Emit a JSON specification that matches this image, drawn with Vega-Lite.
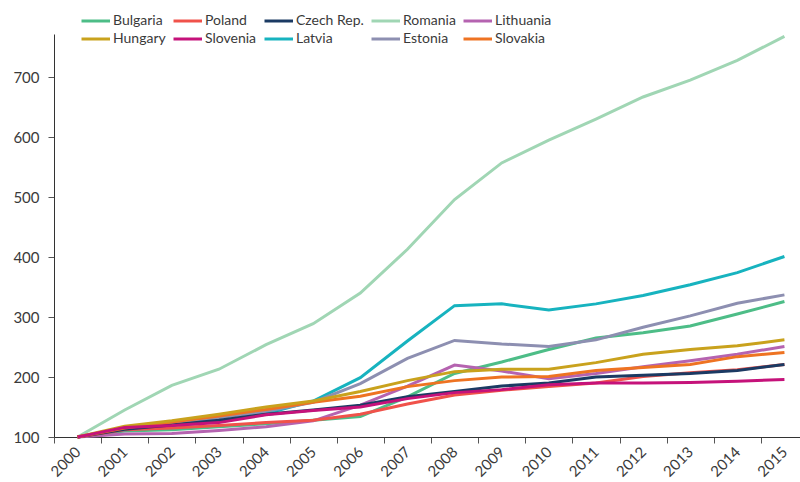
{
  "$schema": "https://vega.github.io/schema/vega-lite/v6.json",
  "autosize": {"type": "none"},
  "padding": {"left": 54, "top": 34, "right": 0, "bottom": 45},
  "width": 746,
  "height": 403,
  "background": "white",
  "config": {
    "view": {"stroke": null},
    "font": "Lato",
    "axis": {"labelFont": "Lato", "labelFontSize": 14, "labelColor": "#3a3a3a", "domainColor": "#333333", "tickColor": "#555555", "grid": false, "title": null}
  },
  "data": {"values": [
    {"country":"Bulgaria","year":"2000","v":100},{"country":"Bulgaria","year":"2001","v":110},{"country":"Bulgaria","year":"2002","v":112},{"country":"Bulgaria","year":"2003","v":117},{"country":"Bulgaria","year":"2004","v":122},{"country":"Bulgaria","year":"2005","v":128},{"country":"Bulgaria","year":"2006","v":134},{"country":"Bulgaria","year":"2007","v":167},{"country":"Bulgaria","year":"2008","v":206},{"country":"Bulgaria","year":"2009","v":225},{"country":"Bulgaria","year":"2010","v":246},{"country":"Bulgaria","year":"2011","v":265},{"country":"Bulgaria","year":"2012","v":274},{"country":"Bulgaria","year":"2013","v":285},{"country":"Bulgaria","year":"2014","v":305},{"country":"Bulgaria","year":"2015","v":326},
    {"country":"Romania","year":"2000","v":100},{"country":"Romania","year":"2001","v":145},{"country":"Romania","year":"2002","v":186},{"country":"Romania","year":"2003","v":213},{"country":"Romania","year":"2004","v":254},{"country":"Romania","year":"2005","v":289},{"country":"Romania","year":"2006","v":340},{"country":"Romania","year":"2007","v":413},{"country":"Romania","year":"2008","v":496},{"country":"Romania","year":"2009","v":557},{"country":"Romania","year":"2010","v":595},{"country":"Romania","year":"2011","v":630},{"country":"Romania","year":"2012","v":667},{"country":"Romania","year":"2013","v":695},{"country":"Romania","year":"2014","v":728},{"country":"Romania","year":"2015","v":768},
    {"country":"Latvia","year":"2000","v":100},{"country":"Latvia","year":"2001","v":112},{"country":"Latvia","year":"2002","v":119},{"country":"Latvia","year":"2003","v":126},{"country":"Latvia","year":"2004","v":139},{"country":"Latvia","year":"2005","v":160},{"country":"Latvia","year":"2006","v":199},{"country":"Latvia","year":"2007","v":260},{"country":"Latvia","year":"2008","v":319},{"country":"Latvia","year":"2009","v":322},{"country":"Latvia","year":"2010","v":312},{"country":"Latvia","year":"2011","v":322},{"country":"Latvia","year":"2012","v":336},{"country":"Latvia","year":"2013","v":354},{"country":"Latvia","year":"2014","v":374},{"country":"Latvia","year":"2015","v":401},
    {"country":"Estonia","year":"2000","v":100},{"country":"Estonia","year":"2001","v":113},{"country":"Estonia","year":"2002","v":123},{"country":"Estonia","year":"2003","v":132},{"country":"Estonia","year":"2004","v":143},{"country":"Estonia","year":"2005","v":158},{"country":"Estonia","year":"2006","v":189},{"country":"Estonia","year":"2007","v":231},{"country":"Estonia","year":"2008","v":261},{"country":"Estonia","year":"2009","v":255},{"country":"Estonia","year":"2010","v":251},{"country":"Estonia","year":"2011","v":262},{"country":"Estonia","year":"2012","v":283},{"country":"Estonia","year":"2013","v":302},{"country":"Estonia","year":"2014","v":323},{"country":"Estonia","year":"2015","v":337},
    {"country":"Lithuania","year":"2000","v":100},{"country":"Lithuania","year":"2001","v":105},{"country":"Lithuania","year":"2002","v":106},{"country":"Lithuania","year":"2003","v":111},{"country":"Lithuania","year":"2004","v":117},{"country":"Lithuania","year":"2005","v":127},{"country":"Lithuania","year":"2006","v":153},{"country":"Lithuania","year":"2007","v":185},{"country":"Lithuania","year":"2008","v":220},{"country":"Lithuania","year":"2009","v":210},{"country":"Lithuania","year":"2010","v":197},{"country":"Lithuania","year":"2011","v":206},{"country":"Lithuania","year":"2012","v":217},{"country":"Lithuania","year":"2013","v":227},{"country":"Lithuania","year":"2014","v":238},{"country":"Lithuania","year":"2015","v":251},
    {"country":"Poland","year":"2000","v":100},{"country":"Poland","year":"2001","v":112},{"country":"Poland","year":"2002","v":115},{"country":"Poland","year":"2003","v":119},{"country":"Poland","year":"2004","v":124},{"country":"Poland","year":"2005","v":128},{"country":"Poland","year":"2006","v":138},{"country":"Poland","year":"2007","v":155},{"country":"Poland","year":"2008","v":170},{"country":"Poland","year":"2009","v":178},{"country":"Poland","year":"2010","v":184},{"country":"Poland","year":"2011","v":190},{"country":"Poland","year":"2012","v":201},{"country":"Poland","year":"2013","v":207},{"country":"Poland","year":"2014","v":212},{"country":"Poland","year":"2015","v":221},
    {"country":"Czech Rep.","year":"2000","v":100},{"country":"Czech Rep.","year":"2001","v":113},{"country":"Czech Rep.","year":"2002","v":120},{"country":"Czech Rep.","year":"2003","v":128},{"country":"Czech Rep.","year":"2004","v":138},{"country":"Czech Rep.","year":"2005","v":145},{"country":"Czech Rep.","year":"2006","v":153},{"country":"Czech Rep.","year":"2007","v":167},{"country":"Czech Rep.","year":"2008","v":176},{"country":"Czech Rep.","year":"2009","v":185},{"country":"Czech Rep.","year":"2010","v":190},{"country":"Czech Rep.","year":"2011","v":200},{"country":"Czech Rep.","year":"2012","v":203},{"country":"Czech Rep.","year":"2013","v":206},{"country":"Czech Rep.","year":"2014","v":211},{"country":"Czech Rep.","year":"2015","v":221},
    {"country":"Slovakia","year":"2000","v":100},{"country":"Slovakia","year":"2001","v":115},{"country":"Slovakia","year":"2002","v":125},{"country":"Slovakia","year":"2003","v":135},{"country":"Slovakia","year":"2004","v":146},{"country":"Slovakia","year":"2005","v":158},{"country":"Slovakia","year":"2006","v":168},{"country":"Slovakia","year":"2007","v":184},{"country":"Slovakia","year":"2008","v":194},{"country":"Slovakia","year":"2009","v":200},{"country":"Slovakia","year":"2010","v":201},{"country":"Slovakia","year":"2011","v":211},{"country":"Slovakia","year":"2012","v":216},{"country":"Slovakia","year":"2013","v":221},{"country":"Slovakia","year":"2014","v":234},{"country":"Slovakia","year":"2015","v":241},
    {"country":"Hungary","year":"2000","v":100},{"country":"Hungary","year":"2001","v":118},{"country":"Hungary","year":"2002","v":127},{"country":"Hungary","year":"2003","v":138},{"country":"Hungary","year":"2004","v":150},{"country":"Hungary","year":"2005","v":160},{"country":"Hungary","year":"2006","v":176},{"country":"Hungary","year":"2007","v":194},{"country":"Hungary","year":"2008","v":209},{"country":"Hungary","year":"2009","v":213},{"country":"Hungary","year":"2010","v":213},{"country":"Hungary","year":"2011","v":224},{"country":"Hungary","year":"2012","v":238},{"country":"Hungary","year":"2013","v":246},{"country":"Hungary","year":"2014","v":252},{"country":"Hungary","year":"2015","v":262},
    {"country":"Slovenia","year":"2000","v":100},{"country":"Slovenia","year":"2001","v":116},{"country":"Slovenia","year":"2002","v":119},{"country":"Slovenia","year":"2003","v":124},{"country":"Slovenia","year":"2004","v":137},{"country":"Slovenia","year":"2005","v":144},{"country":"Slovenia","year":"2006","v":150},{"country":"Slovenia","year":"2007","v":164},{"country":"Slovenia","year":"2008","v":174},{"country":"Slovenia","year":"2009","v":179},{"country":"Slovenia","year":"2010","v":187},{"country":"Slovenia","year":"2011","v":190},{"country":"Slovenia","year":"2012","v":190},{"country":"Slovenia","year":"2013","v":191},{"country":"Slovenia","year":"2014","v":193},{"country":"Slovenia","year":"2015","v":196}
  ]},
  "mark": {"type": "line", "strokeWidth": 3, "clip": false},
  "encoding": {
    "x": {
      "field": "year", "type": "ordinal",
      "scale": {"type": "band", "range": [0, 754], "paddingInner": 0, "paddingOuter": 0},
      "axis": {"tickBand": "extent", "labelAngle": -45, "labelAlign": "right", "labelBaseline": "middle", "labelPadding": 6, "tickSize": 6, "labelDx": 6, "labelFontSize": 15}
    },
    "y": {
      "field": "v", "type": "quantitative",
      "scale": {"domain": [100, 772], "nice": false, "zero": false},
      "axis": {"values": [100, 200, 300, 400, 500, 600, 700], "tickSize": 6, "labelPadding": 9, "labelFontSize": 15}
    },
    "color": {
      "field": "country", "type": "nominal",
      "scale": {
        "domain": ["Bulgaria", "Poland", "Czech Rep.", "Romania", "Lithuania", "Hungary", "Slovenia", "Latvia", "Estonia", "Slovakia"],
        "range": ["#4dbd87", "#f0524a", "#1b3a63", "#a0d6b4", "#b563b0", "#c9a21d", "#c5127a", "#17b3bf", "#8d8fb1", "#ee7322"]
      },
      "legend": {
        "title": null, "orient": "none", "legendX": 26, "legendY": -24, "direction": "horizontal", "columns": 5,
        "symbolType": "M-1,0L2,0", "symbolSize": 361, "symbolStrokeWidth": 3, "labelFontSize": 14, "labelColor": "#3a3a3a",
        "labelOffset": 11, "columnPadding": 1, "rowPadding": 0, "gridAlign": "each"
      }
    }
  }
}
